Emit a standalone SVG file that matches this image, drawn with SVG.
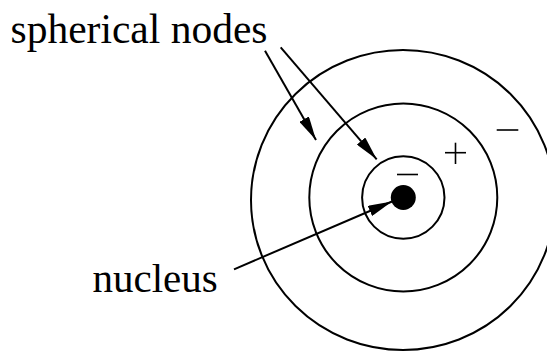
<svg xmlns="http://www.w3.org/2000/svg" width="547" height="351" viewBox="0 0 547 351">
<style>
.ring{fill:none;stroke:#000;stroke-width:2}
.sign{stroke:#000;stroke-width:1.6;fill:none}
.conn{stroke:#000;stroke-width:2;fill:none}
.lbl{font-family:"Liberation Serif","Times New Roman",serif;font-size:41.5px;fill:#000}
</style>
<defs>
<marker id="ah" viewBox="0 0 24 11" refX="24" refY="5.5" markerWidth="24" markerHeight="11" markerUnits="userSpaceOnUse" orient="auto">
<path d="M0,0 L24,5.5 L0,11 Z" fill="#000"/>
</marker>
</defs>
<rect width="547" height="351" fill="#fff"/>
<g id="outer-node"><ellipse class="ring" cx="403" cy="200" rx="152" ry="150"/></g>
<g id="middle-node"><circle class="ring" cx="403.3" cy="197.5" r="94"/></g>
<g id="inner-shell"><circle class="ring" cx="403.3" cy="197.5" r="41.2"/></g>
<g id="nucleus"><circle cx="403.3" cy="197.5" r="12.5" fill="#000"/></g>
<g id="signs">
<line class="sign" x1="397" y1="174.5" x2="418" y2="174.5"/>
<line class="sign" x1="445" y1="152.7" x2="466" y2="152.7"/>
<line class="sign" x1="455.5" y1="142.7" x2="455.5" y2="164"/>
<line class="sign" x1="496.7" y1="130" x2="518.3" y2="130"/>
</g>
<g id="label-spherical"><text class="lbl" x="10.5" y="43.3">spherical nodes</text></g>
<g id="label-nucleus"><text class="lbl" x="92.5" y="291.7" style="font-size:41px">nucleus</text></g>
<g id="connectors">
<line class="conn" x1="265" y1="50.7" x2="316" y2="140" marker-end="url(#ah)"/>
<line class="conn" x1="280.7" y1="47.3" x2="376.7" y2="159.3" marker-end="url(#ah)"/>
<line class="conn" x1="234" y1="269.3" x2="392" y2="201.5" marker-end="url(#ah)"/>
</g>
</svg>
